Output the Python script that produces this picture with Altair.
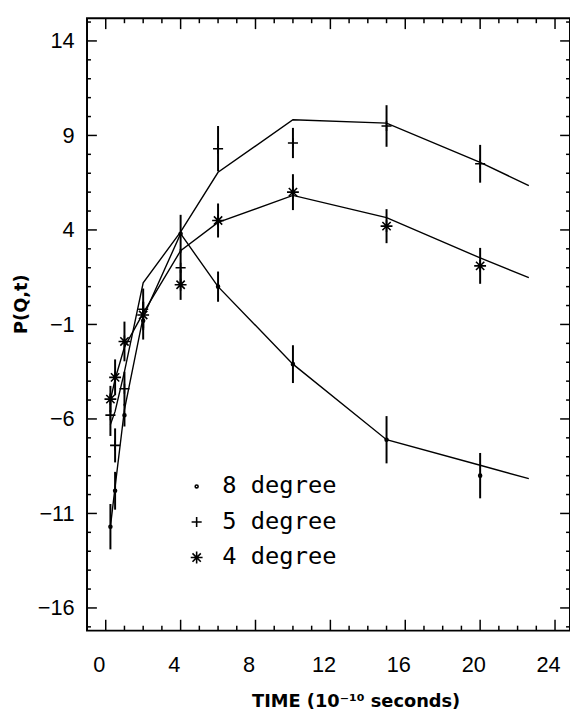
import altair as alt
import pandas as pd

# ---- data ----
series = ["8 degree", "5 degree", "4 degree"]
t_data = [0.25, 0.5, 1, 2, 4, 6, 10, 15, 20]
p8 = [-11.7, -9.8, -5.8, -0.8, 3.8, 1.0, -3.1, -7.1, -9.0]
e8 = [1.2, 1.0, 0.6, 1.0, 1.0, 0.8, 1.0, 1.25, 1.2]
p5 = [-5.8, -7.4, -4.4, -0.2, 2.0, 8.3, 8.6, 9.5, 7.5]
e5 = [1.1, 0.9, 0.9, 1.1, 1.0, 1.2, 0.8, 1.1, 1.0]
p4 = [-4.95, -3.8, -1.9, -0.5, 1.1, 4.5, 6.0, 4.2, 2.1]
e4 = [0.7, 0.95, 1.05, 0.7, 0.8, 0.9, 0.95, 0.9, 0.95]

t_fit = [0.25, 0.5, 1, 2, 4, 6, 10, 15, 20, 22.6]
f8 = [-11.7, -9.6, -5.5, -0.6, 3.8, 1.0, -3.1, -7.1, -8.45, -9.16]
f5 = [-6.3, -5.6, -3.5, 1.2, 3.9, 7.05, 9.83, 9.65, 7.57, 6.35]
f4 = [-5.0, -3.9, -2.2, -0.4, 2.9, 4.4, 5.83, 4.65, 2.52, 1.48]

x_labels = [0, 4, 8, 12, 16, 20, 24]
y_labels = [14, 9, 4, -1, -6, -11, -16]
x_minor = [v for v in range(0, 25) if v not in x_labels]
y_minor = [v for v in range(-17, 16) if v not in y_labels]

# ---- tables ----
rows = []
for name, vals, errs in zip(series, [p8, p5, p4], [e8, e5, e4]):
    for t, v, e in zip(t_data, vals, errs):
        rows.append({"series": name, "t": t, "p": v, "lo": v - e, "hi": v + e})
pts = pd.DataFrame(rows)

frows = []
for name, vals in zip(series, [f8, f5, f4]):
    for t, v in zip(t_fit, vals):
        frows.append({"series": name, "t": t, "p": v})
fit = pd.DataFrame(frows)

xmaj = pd.DataFrame({"t": x_labels})
xmin = pd.DataFrame({"t": x_minor})
ymaj = pd.DataFrame({"p": y_labels})
ymin = pd.DataFrame({"p": y_minor})

W, H = 489, 620
xs = alt.Scale(domain=[-1, 24.8], nice=False, zero=False)
ys = alt.Scale(domain=[-17.2, 15.2], nice=False, zero=False)

circle_path = "M-0.25,0A0.25,0.25 0 1,0 0.25,0A0.25,0.25 0 1,0 -0.25,0Z"
plus_path = "M-0.85,0L0.85,0M0,-0.85L0,0.85"
star_path = "M-1,0L1,0M0,-1L0,1M-0.7,-0.7L0.7,0.7M-0.7,0.7L0.7,-0.7"

x_axis = alt.Axis(values=x_labels, title="TIME (10⁻¹⁰ seconds)", grid=False,
                  ticks=False, tickSize=0, domain=False, labelPadding=24,
                  labelOffset=-7, labelFont="Liberation Sans", labelFontSize=22,
                  labelColor="black", titleFont="DejaVu Sans", titleFontSize=18,
                  titleFontWeight="bold", titleColor="black", titleX=272,
                  titleY=72, titleBaseline="middle")
y_axis = alt.Axis(values=y_labels, title="P(Q,t)", grid=False, ticks=False,
                  tickSize=0, domain=False, labelPadding=13,
                  labelFont="Liberation Sans", labelFontSize=22,
                  labelColor="black", titleFont="DejaVu Sans", titleFontSize=18,
                  titleFontWeight="bold", titleColor="black", titleX=-66,
                  titleY=289, titleBaseline="middle", titleAlign="center",
                  titleAngle=270)

X = lambda f: alt.X(f, scale=xs, axis=x_axis)
Y = lambda f: alt.Y(f, scale=ys, axis=y_axis)

lines = alt.Chart(fit).mark_line(color="black", strokeWidth=1.4).encode(
    x=X("t:Q"), y=Y("p:Q"), detail="series:N", order="t:Q",
)

bars = alt.Chart(pts).mark_rule(color="black", strokeWidth=2).encode(
    x=X("t:Q"), y=Y("lo:Q"), y2="hi:Q",
)

marks = alt.Chart(pts).mark_point(color="black", filled=False, strokeWidth=1.6,
                                  size=144, opacity=1).encode(
    x=X("t:Q"), y=Y("p:Q"),
    shape=alt.Shape("series:N",
                    scale=alt.Scale(domain=series,
                                    range=[circle_path, plus_path, star_path]),
                    legend=alt.Legend(title=None, orient="none", legendX=99,
                                      legendY=462, labelFont="DejaVu Sans Mono",
                                      labelFontSize=24, labelColor="black",
                                      symbolSize=144, symbolStrokeWidth=1.6,
                                      symbolStrokeColor="black",
                                      symbolFillColor="transparent",
                                      rowPadding=12, labelOffset=14, padding=0)),
)

def hrule(df, y0, y1):
    return alt.Chart(df).mark_rule(color="black", strokeWidth=1.5).encode(
        x=X("t:Q"), y=alt.value(y0), y2=alt.value(y1))

def vrule(df, x0, x1):
    return alt.Chart(df).mark_rule(color="black", strokeWidth=1.5).encode(
        y=Y("p:Q"), x=alt.value(x0), x2=alt.value(x1))

chart = alt.layer(
    lines, bars, marks,
    hrule(xmaj, 0, 11), hrule(xmin, 0, 5),
    hrule(xmaj, H, H - 11), hrule(xmin, H, H - 5),
    vrule(ymaj, 0, 10), vrule(ymin, 0, 4),
    vrule(ymaj, W, W - 10), vrule(ymin, W, W - 4),
).properties(
    width=W, height=H,
    autosize=alt.AutoSizeParams(type="none"),
    padding={"left": 80, "top": 6, "right": 0, "bottom": 78},
    background="white",
).configure_view(stroke="black", strokeWidth=2)

chart.save("out.html", embed_options={"renderer": "svg", "actions": False})
